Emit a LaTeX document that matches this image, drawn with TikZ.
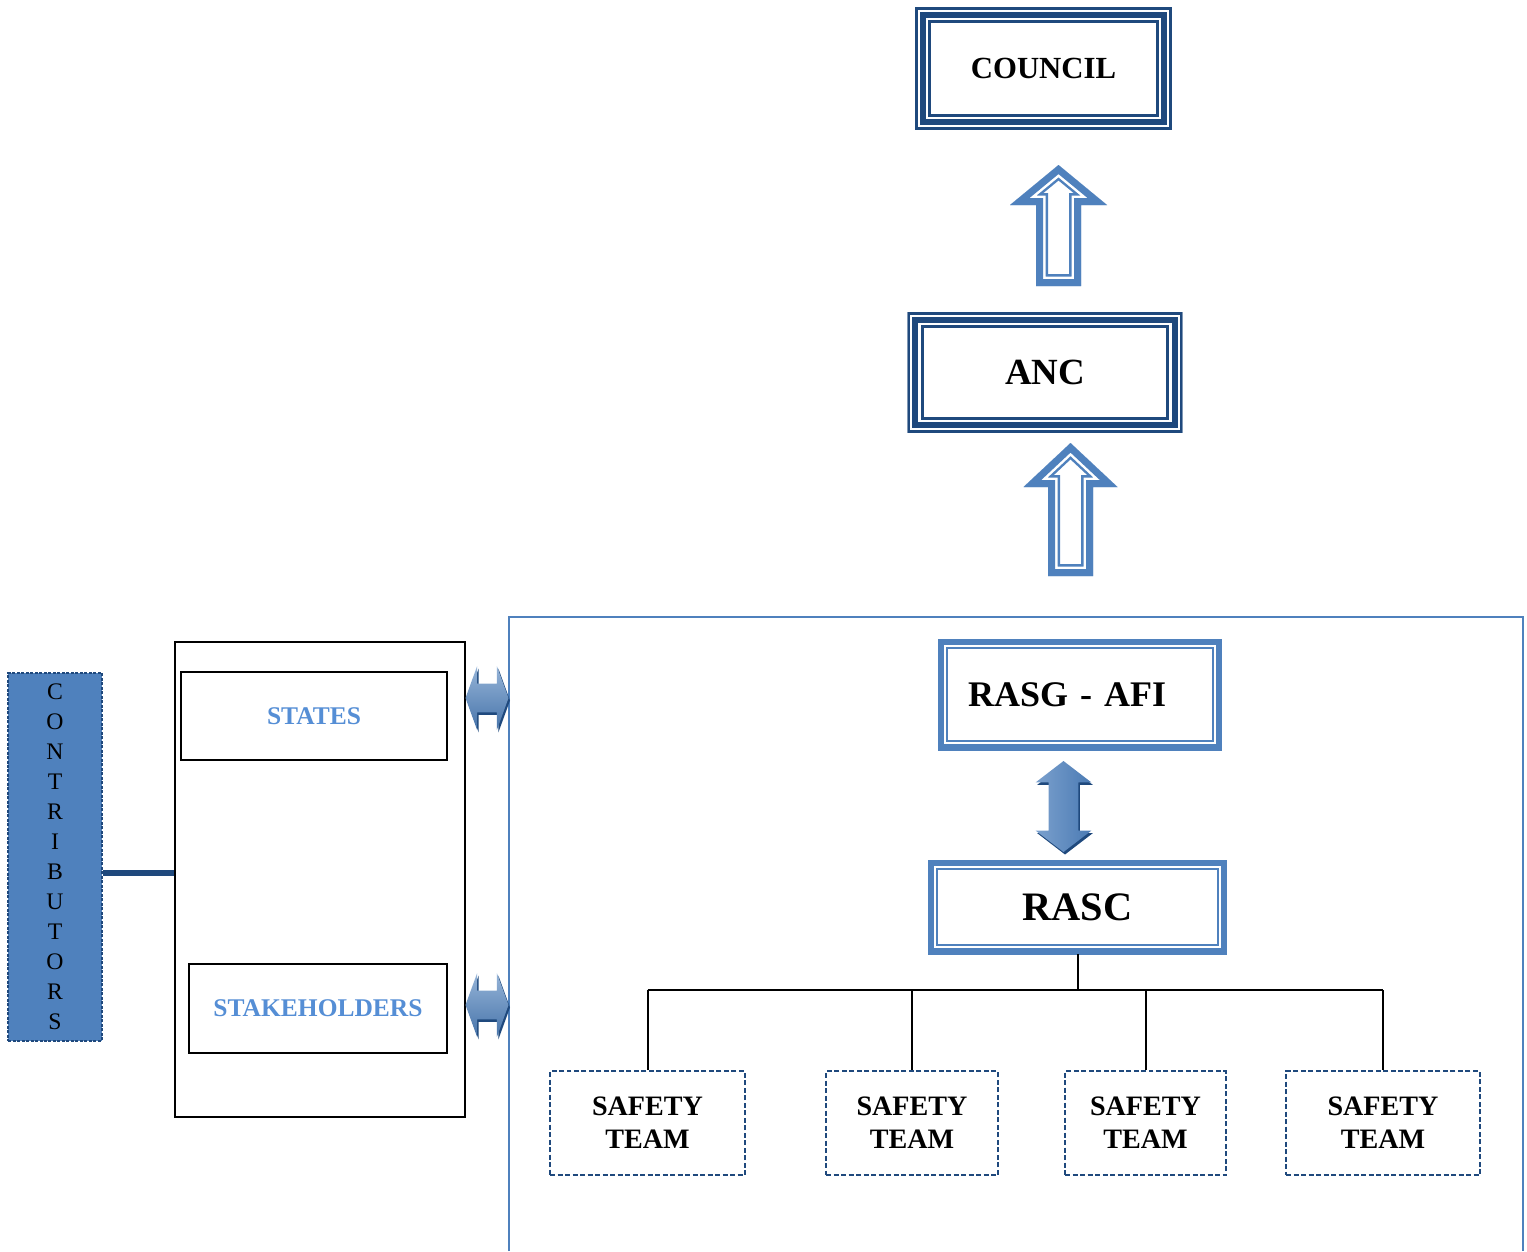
\documentclass[tikz,border=0pt]{standalone}
\usepackage{fontspec}
\setmainfont{Liberation Serif}
\usetikzlibrary{shapes.arrows,shadows}

\definecolor{navy}{RGB}{31,73,125}
\definecolor{steel}{RGB}{79,129,189}
\definecolor{sky}{RGB}{85,142,213}

% hollow block arrow pointing up: x, tip y, head y, foot y, head half width, shaft half width
\newcommand{\hollowup}[6]{%
  \begin{scope}
    \clip (#1,#2) -- ({#1+#5},#3) -- ({#1+#6},#3) -- ({#1+#6},#4) -- ({#1-#6},#4) -- ({#1-#6},#3) -- ({#1-#5},#3) -- cycle;
    \foreach \w/\c in {0.48/steel,0.38/white,0.28/steel}
      \draw[\c, line width=\w cm, line join=miter] (#1,#2) -- ({#1+#5},#3) -- ({#1+#6},#3) -- ({#1+#6},#4) -- ({#1-#6},#4) -- ({#1-#6},#3) -- ({#1-#5},#3) -- cycle;
  \end{scope}}

\tikzset{
  tripleframe/.style={rectangle, path picture={
      \foreach \w/\c in {0.64/navy,0.52/white,0.428/navy,0.188/white,0.108/navy}
        \draw[\c, line width=\w cm] (path picture bounding box.south west) rectangle (path picture bounding box.north east);}},
  thickthin/.style={rectangle, path picture={
      \foreach \w/\c in {0.4/steel,0.32/white,0.24/steel}
        \draw[\c, line width=\w cm] (path picture bounding box.south west) rectangle (path picture bounding box.north east);}},
  sidearrow/.style={double arrow, inner xsep=0pt, inner ysep=0.28cm, minimum height=0.86cm,
      double arrow head extend=0.35cm, double arrow tip angle=140,
      top color=steel!60!white, bottom color=steel!90!black,
      drop shadow={shadow xshift=0.03cm, shadow yshift=-0.05cm, fill=navy, opacity=1}},
  teambox/.style={draw=navy, line width=0.04cm, dash pattern=on 0.1cm off 0.05cm, minimum height=2.08cm,
      align=center, font=\fontsize{16}{18.8}\selectfont\bfseries},
  tree/.style={line width=0.04cm}
}

\begin{document}
\begin{tikzpicture}[x=0.02cm, y=-0.02cm]
  \useasboundingbox (0,0) rectangle (1527,1251);

  % Council and ANC
  \node[tripleframe, minimum width=5.14cm, minimum height=2.46cm, font=\fontsize{17.5}{20}\selectfont\bfseries] (council) at (1043.5,68.5) {COUNCIL};
  \node[tripleframe, minimum width=5.5cm, minimum height=2.42cm, font=\fontsize{21}{24}\selectfont\bfseries] (anc) at (1045,372.5) {ANC};
  \hollowup{1058.5}{165}{205}{286}{48.5}{22.5}
  \hollowup{1070.5}{443}{487}{576}{47}{22.5}

  % Region
  \draw[steel, line width=0.04cm] (509,1251) -- (509,617) -- (1523,617) -- (1523,1251);

  % RASG and RASC
  \node[thickthin, minimum width=5.68cm, minimum height=2.22cm, inner xsep=0.6cm, text width=4.48cm, align=left,
        font=\fontsize{20.5}{24}\selectfont\bfseries] (rasg) at (1080,694.5) {RASG - AFI};
  \node[thickthin, minimum width=5.98cm, minimum height=1.88cm, font=\fontsize{23}{26}\selectfont\bfseries] (rasc) at (1077.5,907) {RASC};
  \node[double arrow, shape border rotate=90, inner sep=0.29cm, minimum height=1.82cm,
        double arrow head extend=0.26cm, double arrow tip angle=105,
        left color=steel!75!white, right color=steel!95!black,
        drop shadow={shadow xshift=0.03cm, shadow yshift=-0.05cm, fill=navy, opacity=1}] (link) at (1063.5,806.5) {};

  % Safety teams
  \foreach \n/\x/\w in {1/647.5/3.9,2/912/3.44,3/1145.5/3.22,4/1383/3.88}
    \node[teambox, minimum width=\w cm] (team\n) at (\x,1123) {SAFETY\\TEAM};
  \coordinate (bus) at (0,990);
  \draw[tree] (rasc.south) -- (rasc.south |- bus);
  \draw[tree] (team1.north |- bus) -- (team4.north |- bus);
  \foreach \n in {1,...,4}
    \draw[tree] (team\n.north |- bus) -- (team\n.north);

  % Contributors
  \node[draw, line width=0.8pt, minimum width=5.8cm, minimum height=9.5cm] (members) at (320,879.5) {};
  \node[draw, line width=0.9pt, minimum width=5.32cm, minimum height=1.76cm, text=sky,
        font=\fontsize{14.5}{17}\selectfont\bfseries] (states) at (314,716) {STATES};
  \node[draw, line width=0.9pt, minimum width=5.16cm, minimum height=1.78cm, text=sky,
        font=\fontsize{14.5}{17}\selectfont\bfseries] (stakeholders) at (318,1008.5) {STAKEHOLDERS};
  \node[sidearrow] (side1) at (487,698) {};
  \node[sidearrow] (side2) at (487,1005) {};

  \node[fill=steel, draw=navy, line width=0.04cm, dash pattern=on 0.06cm off 0.03cm, minimum width=1.88cm, minimum height=7.36cm,
        align=center, font=\fontsize{13.5}{17.07}\selectfont] (contrib) at (55,857) {C\\O\\N\\T\\R\\I\\B\\U\\T\\O\\R\\S};
  \coordinate (joint) at (140,873);
  \draw[navy, line width=0.12cm] (contrib.east |- joint) -- (members.west |- joint);
\end{tikzpicture}
\end{document}
